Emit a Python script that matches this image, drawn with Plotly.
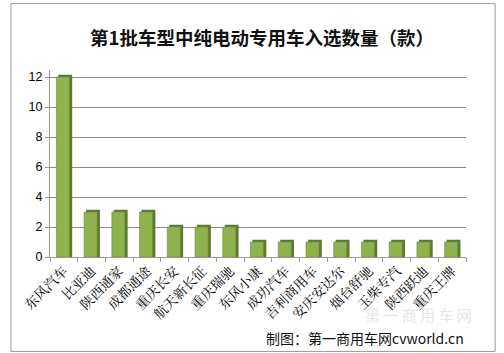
import plotly.graph_objects as go

categories = ["东风汽车", "比亚迪", "陕西通家", "成都通途", "重庆长安", "航天新长征", "重庆瑞驰",
              "东风小康", "成功汽车", "吉利商用车", "安庆安达尔", "烟台舒驰", "玉柴专汽", "陕西跃迪", "重庆王牌"]
values = [12, 3, 3, 3, 2, 2, 2, 1, 1, 1, 1, 1, 1, 1, 1]
y_ticks = [0, 2, 4, 6, 8, 10, 12]

fig = go.Figure()
# darker side (pseudo 3D depth)
fig.add_trace(go.Bar(x=categories, y=[v + 0.15 for v in values], width=0.5, offset=-0.2,
                     marker=dict(color="#5f7a2e", line=dict(width=0)), hoverinfo="skip"))
# front face
fig.add_trace(go.Bar(x=categories, y=values, width=0.47, offset=-0.27,
                     marker=dict(color="#8fb34c", line=dict(color="#6d8a35", width=0.6))))

fig.update_layout(
    width=504, height=353,
    margin=dict(l=50, r=38, t=70, b=96),
    barmode="overlay",
    showlegend=False,
    paper_bgcolor="white", plot_bgcolor="white",
    font=dict(family="Noto Sans CJK SC, Liberation Sans", color="#000"),
    title=dict(text="<b>第1批车型中纯电动专用车入选数量（款）</b>", x=0.52, xanchor="center",
               y=0.89, yanchor="middle",
               font=dict(size=18.5, family="Noto Sans CJK SC", color="#111")),
    xaxis=dict(type="category", tickangle=-45, tickfont=dict(size=13.5, family="Noto Serif CJK SC, Noto Sans CJK SC"),
               showline=True, linecolor="#999", ticks="outside", tickson="boundaries",
               ticklen=4, tickcolor="#999", showgrid=False, range=[-0.5, 14.5]),
    yaxis=dict(range=[0, 12.47], tickvals=y_ticks, ticktext=[str(t) for t in y_ticks],
               tickfont=dict(size=12.5, family="Liberation Sans"),
               showline=True, linecolor="#999", ticks="outside", ticklen=4, tickcolor="#999",
               showgrid=True, gridcolor="#8a8a8a", gridwidth=1, zeroline=False),
    shapes=[dict(type="rect", xref="paper", yref="paper", x0=-0.094, x1=1.07, y0=-0.505, y1=1.355,
                 line=dict(color="#999", width=1))],
    annotations=[
        dict(text="第 一 商 用 车 网", xref="paper", yref="paper", x=1.02, y=-0.305, xanchor="right",
             yanchor="middle", showarrow=False, font=dict(size=15, color="#e6e6e6", family="Noto Sans CJK SC")),
        dict(text="制图：第一商用车网cvworld.cn", xref="paper", yref="paper", x=1.0, y=-0.435, xanchor="right",
             yanchor="middle", showarrow=False, font=dict(size=14, color="#111", family="Noto Sans CJK SC")),
    ],
)

fig.write_html("out.html")
